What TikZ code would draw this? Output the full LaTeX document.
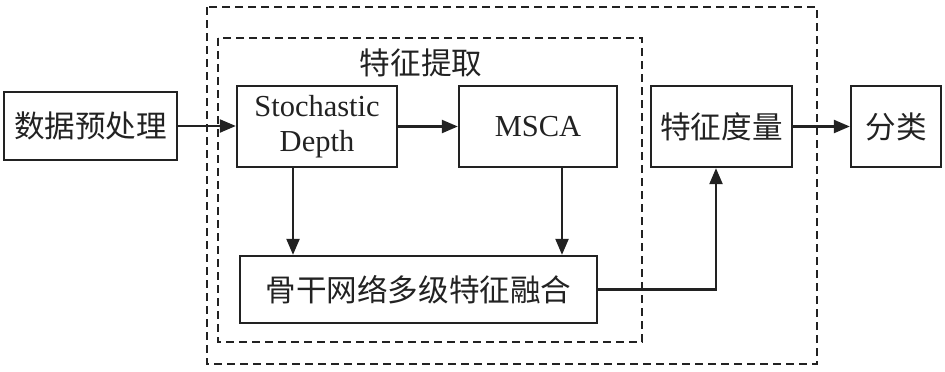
\documentclass[tikz,border=0pt]{standalone}
\usepackage{fontspec}
\setmainfont{Liberation Serif}
\newfontfamily\cjk{Noto Sans CJK SC}[Scale=1.02]
\usetikzlibrary{arrows.meta}
\definecolor{ink}{HTML}{222222}
\tikzset{
  box/.style={draw=ink, line width=2.3pt, rectangle, inner sep=0pt, text=ink, align=center,
    font=\fontsize{30.5}{35}\selectfont},
  frame/.style={draw=ink, line width=2.2pt, dash pattern=on 8pt off 5pt},
  arr/.style={draw=ink, line width=2.2pt, -{Triangle[length=16pt,width=13pt]}},
}
\begin{document}
\begin{tikzpicture}[x=1pt,y=-1pt]
\useasboundingbox (0,0) rectangle (945,372);
\draw[frame] (207,7) rectangle (817,364);
\draw[frame] (218,38) rectangle (642,342);
\node[text=ink, font=\fontsize{30}{35}\selectfont\cjk] (lbl) at (421,63) {特征提取};
\node[box, minimum width=173pt, minimum height=68pt, font=\fontsize{30}{35}\selectfont\cjk] (prep) at (90.5,126) {数据预处理};
\node[box, minimum width=160pt, minimum height=81pt] (sd) at (317,126.5) {Stochastic\\Depth};
\node[box, minimum width=158pt, minimum height=81pt] (msca) at (538,126.5) {MSCA};
\node[box, minimum width=141pt, minimum height=81pt, font=\fontsize{30}{35}\selectfont\cjk] (feat) at (721.5,126.5) {特征度量};
\node[box, minimum width=90pt, minimum height=81pt, font=\fontsize{30}{35}\selectfont\cjk] (cls) at (896,126.5) {分类};
\node[box, minimum width=357pt, minimum height=67pt, font=\fontsize{30}{35}\selectfont\cjk] (bb) at (418.5,289.5) {骨干网络多级特征融合};
\draw[arr] (prep.east) -- (sd.west |- prep.east);
\draw[arr] (sd.east) -- (msca.west);
\draw[arr] (feat.east) -- (cls.west);
\draw[arr] ([xshift=-24pt]sd.south) -- ([xshift=-24pt]sd.south |- bb.north);
\draw[arr] ([xshift=24pt]msca.south) -- ([xshift=24pt]msca.south |- bb.north);
\coordinate (up) at ([xshift=-5.5pt]feat.south);
\draw[arr] (bb.east) -- (up |- bb.east) -- (up);
\end{tikzpicture}
\end{document}
